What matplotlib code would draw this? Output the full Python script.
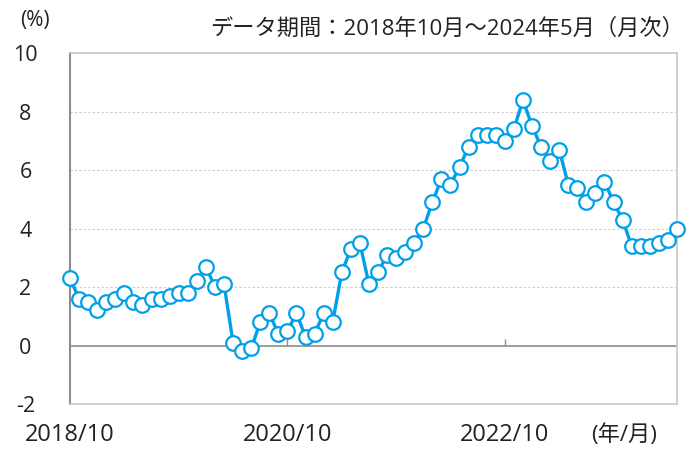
import matplotlib
matplotlib.use("Agg")
import matplotlib.pyplot as plt
import numpy as np

plt.rcParams['font.family'] = ['Open Sans', 'Noto Sans CJK JP', 'DejaVu Sans']

# monthly values, 2018/10 .. 2024/5 (%)
values = [
    2.3, 1.6, 1.5, 1.2, 1.5, 1.6, 1.8, 1.5, 1.4, 1.6, 1.6, 1.7,
    1.8, 1.8, 2.2, 2.7, 2.0, 2.1, 0.1, -0.2, -0.1, 0.8, 1.1, 0.4,
    0.5, 1.1, 0.3, 0.4, 1.1, 0.8, 2.5, 3.3, 3.5, 2.1, 2.5, 3.1,
    3.0, 3.2, 3.5, 4.0, 4.9, 5.7, 5.5, 6.1, 6.8, 7.2, 7.2, 7.2,
    7.0, 7.4, 8.4, 7.5, 6.8, 6.3, 6.7, 5.5, 5.4, 4.9, 5.2, 5.6,
    4.9, 4.3, 3.4, 3.4, 3.4, 3.5, 3.6, 4.0,
]
tick_pos = [0, 24, 48]
tick_labels = ["2018/10", "2020/10", "2022/10"]
y_ticks = [-2, 0, 2, 4, 6, 8, 10]

blue = "#00a0e9"
x = np.arange(len(values))

fig = plt.figure(figsize=(6.91, 4.5), dpi=100)
ax = fig.add_axes([0.1013, 0.1022, 0.8784, 0.78])

ax.set_xlim(0, len(values) - 1)
ax.set_ylim(-2, 10)

for y in [2, 4, 6, 8]:
    ax.axhline(y, color="#cccccc", lw=0.8, ls=(0, (2, 2)), zorder=1)
ax.axhline(0, color="#8c8c8c", lw=1.2, zorder=2)

ax.plot(x, values, color=blue, lw=2.4, marker="o", ms=10.5,
        mfc="white", mec=blue, mew=1.6, zorder=3, clip_on=False)

for side in ["top", "right", "bottom"]:
    ax.spines[side].set_color("#c8c8c8")
    ax.spines[side].set_linewidth(1.2)
ax.spines["left"].set_color("#8c8c8c")
ax.spines["left"].set_linewidth(1.5)

ax.set_yticks(y_ticks)
ax.set_yticklabels([str(v) for v in y_ticks], fontsize=15.5, color="#222222")
ax.tick_params(axis="y", length=0, pad=32)
for lbl in ax.get_yticklabels():
    lbl.set_horizontalalignment("center")
ax.set_xticks(tick_pos)
ax.set_xticklabels(tick_labels, fontsize=17, color="#222222")
ax.tick_params(axis="x", length=0, pad=14)

# small tick marks on the zero line
sec = ax.secondary_xaxis(2 / 12)
sec.set_xticks(tick_pos[1:])
sec.set_xticklabels(["", ""])
sec.tick_params(direction="in", length=5, width=1, color="#8c8c8c")
sec.spines["bottom"].set_visible(False)

fig.text(0.051, 0.955, "(%)", fontsize=15, ha="center", va="center", color="#222222")
fig.text(0.99, 0.935, "データ期間：2018年10月～2024年5月（月次）", fontsize=16,
         ha="right", va="center", color="#222222")
fig.text(0.903, 0.033, "(年/月)", fontsize=16, ha="center", va="center", color="#222222")

fig.savefig("out.png", dpi=100)
